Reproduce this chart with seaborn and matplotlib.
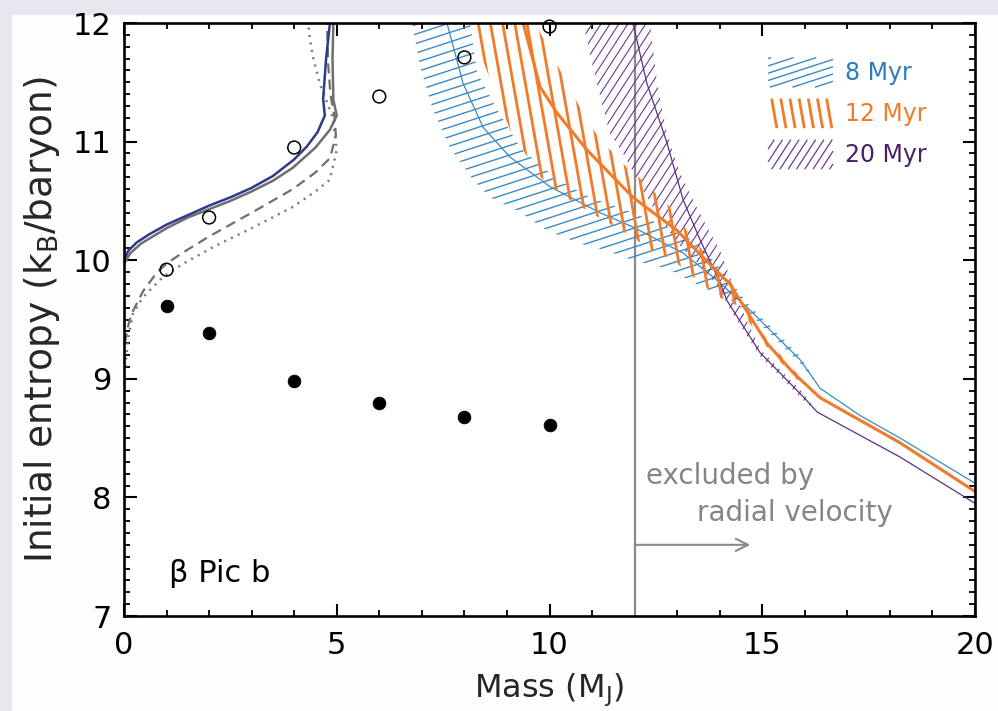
import numpy as np
import matplotlib
matplotlib.use("Agg")
import matplotlib.pyplot as plt
import seaborn as sns
from matplotlib.collections import LineCollection
from matplotlib.patches import Rectangle, Patch
from matplotlib.legend_handler import HandlerBase
from matplotlib.ticker import MultipleLocator

# ---------------- data ----------------
mass_pts = [1, 2, 4, 6, 8, 10]
s_hot = [9.92, 10.36, 10.95, 11.38, 11.71, 11.97]
s_cold = [9.61, 9.39, 8.98, 8.80, 8.68, 8.61]

navy_m = [0.0, 0.1, 0.3, 0.6, 1.0, 1.5, 2.0, 2.5, 3.0, 3.5, 4.0, 4.3, 4.55, 4.72, 4.68, 4.75, 4.84]
navy_s = [10.0, 10.08, 10.15, 10.22, 10.30, 10.38, 10.46, 10.53, 10.61, 10.71, 10.85, 10.96, 11.08, 11.22, 11.36, 11.7, 12.0]

gray_m = [0.0, 0.15, 0.4, 1.0, 1.5, 2.0, 2.5, 3.0, 3.5, 3.97, 4.5, 4.84, 5.0, 4.92, 4.9, 4.92]
gray_s = [9.97, 10.06, 10.14, 10.27, 10.36, 10.43, 10.50, 10.58, 10.67, 10.78, 10.95, 11.1, 11.22, 11.35, 11.7, 12.0]

dash_m = [0.02, 0.1, 0.18, 0.45, 0.78, 1.0, 1.32, 2.0, 3.0, 3.97, 4.5, 4.84, 4.98, 4.95, 4.85, 4.8, 4.77]
dash_s = [9.3, 9.45, 9.55, 9.74, 9.9, 9.97, 10.05, 10.2, 10.4, 10.6, 10.74, 10.86, 11.05, 11.2, 11.4, 11.65, 12.0]

dot_m = [0.03, 0.1, 0.21, 0.45, 0.92, 1.39, 2.09, 3.0, 3.97, 4.5, 4.84, 5.0, 4.9, 4.6, 4.45, 4.37, 4.33]
dot_s = [9.1, 9.35, 9.55, 9.69, 9.86, 9.97, 10.11, 10.27, 10.45, 10.58, 10.68, 10.93, 11.21, 11.49, 11.7, 11.86, 12.0]

# 8 Myr
b_m = [7.59, 7.97, 8.44, 9.07, 10.01, 11.19, 11.96, 13.14, 13.94, 14.71, 15.89, 16.36, 17.3, 18.24, 20.0]
b_s = [12.0, 11.49, 11.12, 10.87, 10.62, 10.40, 10.28, 10.06, 9.83, 9.58, 9.16, 8.92, 8.69, 8.5, 8.12]
bl_m = [6.77, 6.96, 7.26, 7.66, 8.2, 8.6, 9.24, 9.94, 10.72, 11.26, 11.96, 12.76, 13.3, 13.6, 14.2, 14.71, 15.89, 16.36]
bl_s = [12.0, 11.63, 11.27, 10.95, 10.68, 10.53, 10.42, 10.25, 10.14, 10.09, 10.0, 9.93, 9.83, 9.77, 9.68, 9.55, 9.13, 8.92]
bu_m = [8.13, 8.3, 8.77, 9.31, 10.18, 10.95, 11.82, 12.76, 13.47, 14.17, 14.64, 15.89, 16.36]
bu_s = [12.0, 11.58, 11.27, 10.95, 10.68, 10.53, 10.42, 10.28, 10.15, 9.87, 9.64, 9.19, 8.92]

# 12 Myr
o_m = [9.38, 9.78, 10.18, 10.88, 11.96, 13.0, 13.84, 14.24, 14.48, 15.11, 15.73, 16.36, 18.24, 20.0]
o_s = [12.0, 11.46, 11.24, 10.93, 10.53, 10.25, 9.94, 9.80, 9.66, 9.30, 9.05, 8.84, 8.46, 8.05]
ol_m = [8.1, 8.77, 9.14, 9.47, 9.73, 10.01, 10.55, 11.35, 11.89, 12.36, 12.9, 13.42, 13.96, 14.4, 15.11, 15.73, 16.36]
ol_s = [12.0, 11.37, 11.04, 10.88, 10.72, 10.63, 10.49, 10.32, 10.21, 10.09, 10.0, 9.85, 9.69, 9.62, 9.27, 9.02, 8.84]
ou_m = [9.66, 10.25, 10.65, 10.95, 11.23, 11.54, 11.82, 12.13, 12.41, 12.67, 12.95, 13.23, 13.54, 13.84, 14.17, 14.48, 15.11, 15.73, 16.36]
ou_s = [12.0, 11.6, 11.33, 11.14, 11.0, 10.89, 10.78, 10.69, 10.59, 10.51, 10.4, 10.25, 10.11, 9.96, 9.86, 9.70, 9.33, 9.08, 8.84]

# 20 Myr
p_m = [11.96, 12.29, 12.76, 13.14, 13.54, 14.01, 14.17, 14.95, 15.96, 16.29, 18.24, 20.0]
p_s = [12.0, 11.49, 10.99, 10.51, 10.17, 9.81, 9.66, 9.22, 8.85, 8.72, 8.34, 7.95]
pl_m = [10.79, 11.02, 11.19, 11.42, 11.73, 12.06, 12.43, 12.83, 13.14, 13.47, 13.77, 14.0, 14.3, 14.95, 15.96, 16.29]
pl_s = [12.0, 11.63, 11.38, 11.07, 10.9, 10.68, 10.45, 10.23, 10.09, 9.98, 9.86, 9.75, 9.55, 9.19, 8.82, 8.72]
pu_m = [12.36, 12.53, 12.76, 13.05, 13.37, 13.7, 14.0, 14.24, 14.5, 14.95, 15.96, 16.29]
pu_s = [12.0, 11.49, 11.07, 10.75, 10.51, 10.28, 10.09, 9.86, 9.60, 9.25, 8.88, 8.72]

age_labels = ["8 Myr", "12 Myr", "20 Myr"]
x_ticks = [0, 5, 10, 15, 20]
y_ticks = [7, 8, 9, 10, 11, 12]
rv_limit = 12.0

# ---------------- style ----------------
C_BLUE = "#3a8ac6"
C_ORANGE = "#f07b2a"
C_PURPLE = "#6a3a90"
C_NAVY = "#2e3a8c"
C_GRAY = "#6e6e6e"

sns.set_theme(style="ticks")
plt.rcParams["font.family"] = ["DejaVu Sans"]
plt.rcParams["mathtext.default"] = "regular"

fig = plt.figure(figsize=(9.98, 7.11), dpi=100)
fig.patch.set_facecolor("#e6e6ee")
fig.patches.append(Rectangle((12 / 998, 0), 1, (711 - 15) / 711, transform=fig.transFigure,
                             facecolor="#fefefc", edgecolor="none", zorder=-10))
ax = fig.add_axes([124 / 998, (711 - 616) / 711, 851 / 998, 593 / 711])
ax.set_facecolor("white")
ax.set_xlim(0, 20)
ax.set_ylim(7, 12)

pos = ax.get_position()
W = pos.width * fig.get_figwidth() * fig.dpi
H = pos.height * fig.get_figheight() * fig.dpi


def hatch_band(lo_m, lo_s, up_m, up_s, angle, spacing, color, lw, z):
    xs = list(lo_m) + list(up_m[::-1])
    ys = list(lo_s) + list(up_s[::-1])
    poly = ax.fill(xs, ys, facecolor="none", edgecolor="none", lw=0)[0]
    th = np.deg2rad(angle)
    d = np.array([np.cos(th), np.sin(th)])
    n = np.array([-np.sin(th), np.cos(th)])
    R = np.hypot(W, H)
    ctr = np.array([W / 2, H / 2])
    segs = []
    for c in np.arange(-R, R, spacing):
        p0 = ctr + c * n - R * d
        p1 = ctr + c * n + R * d
        segs.append([(p0[0] / W, p0[1] / H), (p1[0] / W, p1[1] / H)])
    lc = LineCollection(segs, transform=ax.transAxes, colors=color, linewidths=lw, zorder=z)
    ax.add_collection(lc, autolim=False)
    lc.set_clip_path(poly)


hatch_band(bl_m, bl_s, bu_m, bu_s, 18, 9.0, C_BLUE, 1.0, 2)
sns.lineplot(x=b_m, y=b_s, ax=ax, color=C_BLUE, lw=0.9, sort=False, estimator=None, zorder=3)
hatch_band(pl_m, pl_s, pu_m, pu_s, 57, 7.5, C_PURPLE, 0.8, 4)
sns.lineplot(x=p_m, y=p_s, ax=ax, color="#5e2f85", lw=0.9, sort=False, estimator=None, zorder=5)
hatch_band(ol_m, ol_s, ou_m, ou_s, 100, 12.0, C_ORANGE, 2.0, 6)
sns.lineplot(x=o_m, y=o_s, ax=ax, color=C_ORANGE, lw=2.2, sort=False, estimator=None, zorder=7)

sns.lineplot(x=dot_m, y=dot_s, ax=ax, color="#7a7a7a", lw=1.8, sort=False, estimator=None,
             linestyle=(0, (0.8, 2.2)), zorder=8)
sns.lineplot(x=dash_m, y=dash_s, ax=ax, color=C_GRAY, lw=1.6, sort=False, estimator=None,
             linestyle=(0, (4.5, 2.8)), zorder=8)
sns.lineplot(x=gray_m, y=gray_s, ax=ax, color=C_GRAY, lw=1.8, sort=False, estimator=None, zorder=9)
sns.lineplot(x=navy_m, y=navy_s, ax=ax, color=C_NAVY, lw=1.8, sort=False, estimator=None, zorder=10)

sns.scatterplot(x=mass_pts, y=s_hot, ax=ax, marker="o", s=85, facecolor="none",
                edgecolor="black", linewidth=1.1, zorder=11, clip_on=False)
sns.scatterplot(x=mass_pts, y=s_cold, ax=ax, marker="o", s=85, color="black",
                edgecolor="black", linewidth=0.5, zorder=11)

ax.axvline(rv_limit, color="#8a8a8a", lw=1.6, zorder=1)
ax.annotate("", xy=(14.72, 7.6), xytext=(rv_limit, 7.6),
            arrowprops=dict(arrowstyle="->", color="#8a8a8a", lw=1.5, mutation_scale=22,
                            shrinkA=0, shrinkB=0))
ax.text(12.27, 8.18, "excluded by", color="#858585", fontsize=20, ha="left", va="center")
ax.text(13.47, 7.87, "radial velocity", color="#858585", fontsize=20, ha="left", va="center")
ax.text(1.05, 7.36, "β Pic b", color="black", fontsize=22, ha="left", va="center")

# axes
ax.xaxis.set_minor_locator(MultipleLocator(1))
ax.yaxis.set_minor_locator(MultipleLocator(0.1))
ax.set_xticks(x_ticks)
ax.set_xticklabels([str(v) for v in x_ticks])
ax.set_yticks(y_ticks)
ax.set_yticklabels([str(v) for v in y_ticks])
ax.tick_params(which="both", direction="in", top=True, right=True, colors="black")
ax.tick_params(which="major", length=9, width=1.5, labelsize=22)
ax.tick_params(which="minor", length=4.5, width=1.3)
ax.tick_params(axis="x", which="major", pad=11)
ax.tick_params(axis="y", which="major", pad=9)
for sp in ax.spines.values():
    sp.set_linewidth(1.9)
    sp.set_color("black")
    sp.set_zorder(20)

ax.set_xlabel("Mass (M$_J$)", fontsize=23, labelpad=8)
ax.set_ylabel("Initial entropy (k$_B$/baryon)", fontsize=27, labelpad=8)


# legend with custom hatch samples
class HatchHandler(HandlerBase):
    def __init__(self, angle, spacing, lw, color):
        super().__init__()
        self.angle, self.spacing, self.lw, self.color = angle, spacing, lw, color

    def create_artists(self, legend, orig_handle, xdescent, ydescent, width, height,
                       fontsize, trans):
        x0, y0 = -xdescent, -ydescent - 0.2 * height
        x1, y1 = x0 + width, y0 + height * 1.4
        th = np.deg2rad(self.angle)
        d = np.array([np.cos(th), np.sin(th)])
        n = np.array([-np.sin(th), np.cos(th)])
        ctr = np.array([(x0 + x1) / 2, (y0 + y1) / 2])
        R = np.hypot(width, height) * 2
        segs = []
        for c in np.arange(-R, R, self.spacing):
            p = ctr + c * n
            t0, t1 = -R, R
            ok = True
            for k, lo, hi in ((0, x0, x1), (1, y0, y1)):
                if abs(d[k]) < 1e-9:
                    if p[k] < lo or p[k] > hi:
                        ok = False
                    continue
                ta, tb = (lo - p[k]) / d[k], (hi - p[k]) / d[k]
                t0, t1 = max(t0, min(ta, tb)), min(t1, max(ta, tb))
            if ok and t1 > t0:
                segs.append([tuple(p + t0 * d), tuple(p + t1 * d)])
        lc = LineCollection(segs, colors=self.color, linewidths=self.lw, transform=trans)
        return [lc]


handles = [Patch(label=l) for l in age_labels]
hmap = {handles[0]: HatchHandler(18, 5.0, 1.0, C_BLUE),
        handles[1]: HatchHandler(100, 6.5, 2.0, C_ORANGE),
        handles[2]: HatchHandler(57, 5.0, 0.9, C_PURPLE)}
leg = ax.legend(handles=handles, labels=age_labels, handler_map=hmap, loc="upper left",
                bbox_to_anchor=(0.743, 0.955), frameon=False, fontsize=17, borderpad=0,
                handlelength=2.75, handleheight=1.0, handletextpad=0.5, labelspacing=0.72,
                labelcolor=["#2f7bbf", C_ORANGE, "#4a1f66"])

fig.savefig("out.png", dpi=100, facecolor=fig.get_facecolor())
